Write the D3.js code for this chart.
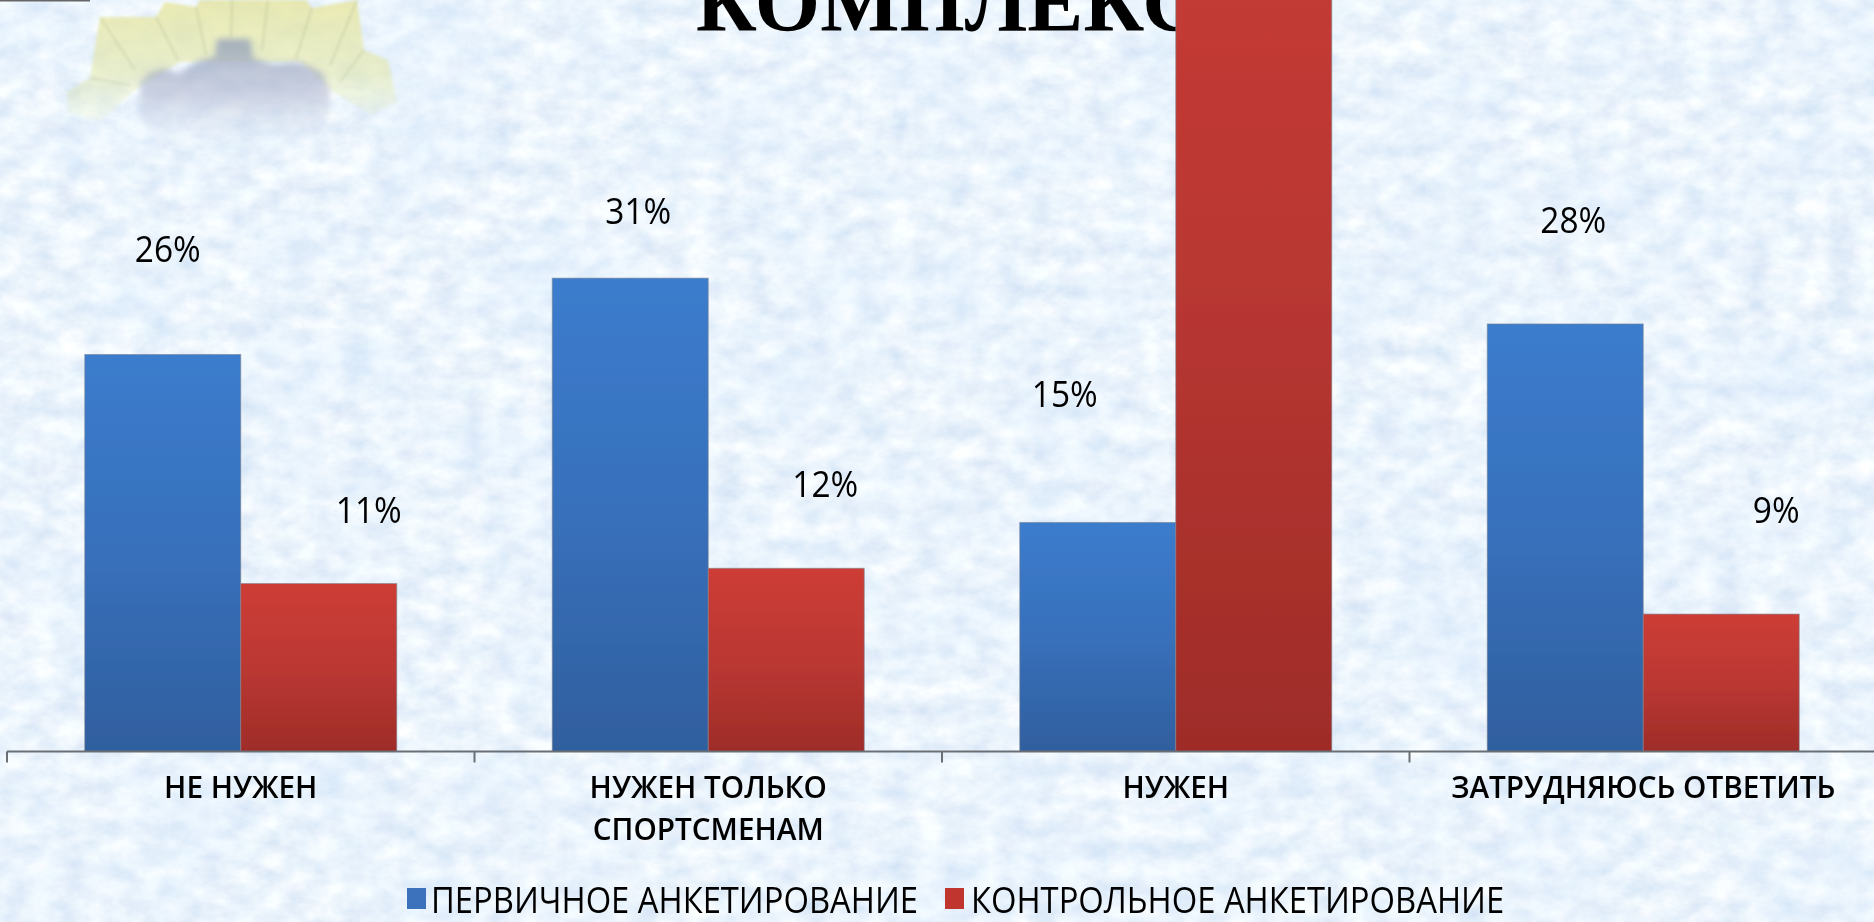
<!DOCTYPE html>
<html><head><meta charset="utf-8">
<script src="https://cdn.jsdelivr.net/npm/d3@7"></script>
<style>html,body{margin:0;padding:0;overflow:hidden;background:#d6e7f8}svg{display:block}
text{font-family:"Open Sans","Noto Sans",sans-serif;fill:#000}</style></head>
<body><script>
const categories = ["НЕ НУЖЕН", "НУЖЕН ТОЛЬКО\nСПОРТСМЕНАМ", "НУЖЕН", "ЗАТРУДНЯЮСЬ ОТВЕТИТЬ"];
const seriesNames = ["ПЕРВИЧНОЕ АНКЕТИРОВАНИЕ", "КОНТРОЛЬНОЕ АНКЕТИРОВАНИЕ"];
const firstSurvey = [26, 31, 15, 28];
const controlSurvey = [11, 12, 68, 9];
const titleText = "КОМПЛЕКС";
// manual data-label displacement from the bar top (hand-placed in the original)
const labelDx = [[0, 3, -38, 3], [45, 34, 0, 50]];
const labelDy = [[92, 54, 115, 91], [61, 71, 0, 91]];

const W = 1874, H = 922, baseY = 751.5;
const svg = d3.select("body").append("svg").attr("width", W).attr("height", H).attr("viewBox", `0 0 ${W} ${H}`);
const defs = svg.append("defs");

function grad(id, stops) {
  const g = defs.append("linearGradient").attr("id", id).attr("x1", 0).attr("x2", 0).attr("y1", 0).attr("y2", 1);
  stops.forEach((c, i) => g.append("stop").attr("offset", i / (stops.length - 1)).attr("stop-color", c));
}
grad("gBlue", ["#3b7ccd", "#3870bb", "#2f5f9e"]);
grad("gRed", ["#cd3c35", "#bb3833", "#9e2c28"]);
function noise(id, freq, oct, seed, matrix) {
  const f = defs.append("filter").attr("id", id).attr("x", 0).attr("y", 0).attr("width", 1).attr("height", 1);
  f.append("feTurbulence").attr("type", "fractalNoise").attr("baseFrequency", freq).attr("numOctaves", oct).attr("seed", seed);
  f.append("feColorMatrix").attr("type", "matrix").attr("values", matrix);
}
noise("snow", "0.035 0.05", 5, 11, "0.42 0.06 0 0 0.60  0.32 0 0 0 0.75  0.14 0 0 0 0.905  0 0 0 0 1");
noise("snowWide", "0.008 0.012", 3, 4, "0 0 0 0 0.70  0 0 0 0 0.84  0 0 0 0 1  1.6 0 0 0 -0.62");
defs.append("filter").attr("id", "soft").append("feGaussianBlur").attr("stdDeviation", 0.75);
defs.append("filter").attr("id", "softBar").append("feGaussianBlur").attr("stdDeviation", 0.7);
defs.append("filter").attr("id", "softLogo").append("feGaussianBlur").attr("stdDeviation", 1.6);
defs.append("filter").attr("id", "softer").append("feGaussianBlur").attr("stdDeviation", 3);
const fade = defs.append("linearGradient").attr("id", "fadeDown").attr("x1", 0).attr("x2", 0).attr("y1", 0).attr("y2", 1);
fade.append("stop").attr("offset", 0).attr("stop-color", "#93a1b8").attr("stop-opacity", .8);
fade.append("stop").attr("offset", .5).attr("stop-color", "#b4b9d0").attr("stop-opacity", .6);
fade.append("stop").attr("offset", 1).attr("stop-color", "#d5e3f5").attr("stop-opacity", 0);
const petal = defs.append("linearGradient").attr("id", "petal").attr("x1", 0).attr("x2", 0).attr("y1", 0).attr("y2", 1);
petal.append("stop").attr("offset", 0).attr("stop-color", "#e6e59e").attr("stop-opacity", .8);
petal.append("stop").attr("offset", .6).attr("stop-color", "#e4e8ac").attr("stop-opacity", .6);
petal.append("stop").attr("offset", 1).attr("stop-color", "#e0ecc0").attr("stop-opacity", .15);

// background
svg.append("rect").attr("width", W).attr("height", H).attr("fill", "#d6e7f8");
svg.append("rect").attr("width", W).attr("height", H).attr("filter", "url(#snow)");
svg.append("rect").attr("width", W).attr("height", H).attr("filter", "url(#snowWide)").attr("opacity", .45);

// faint logo, top-left
const logo = svg.append("g").attr("filter", "url(#softLogo)");
logo.append("path").attr("d", "M67,92 L90,78 L100,17 L156,17 L165,2 L196,7 L200,0 L306,0 L312,8 L357,0 L364,50 L388,60 L397,102 L372,115 L330,90 L300,62 L180,62 L135,90 L100,122 L68,112 Z")
  .attr("fill", "url(#petal)");
logo.selectAll("path.p").data(["M100,17 L135,70","M156,17 L178,60","M196,7 L206,55","M232,0 L231,38","M268,0 L262,50","M312,8 L296,58","M357,0 L330,66","M364,50 L340,82","M90,78 L130,85"])
  .join("path").attr("d", d => d).attr("stroke", "#a8b490").attr("stroke-width", 1.2).attr("fill", "none").attr("opacity", .6);
svg.append("path").attr("d", "M140,82 L150,72 L165,68 L178,74 L196,62 L215,56 L217,39 L250,39 L253,58 L275,64 L300,62 L322,72 L330,90 L330,115 L300,150 L180,150 L140,120 Z")
  .attr("fill", "url(#fadeDown)").attr("filter", "url(#softer)");
// top-left sliver
svg.append("rect").attr("x", 0).attr("y", 0).attr("width", 90).attr("height", 1.5).attr("fill", "#666");

// scales
const x0 = d3.scaleBand().domain(d3.range(categories.length)).range([7, 7 + 467.5 * 4]);
const x1 = d3.scaleBand().domain([0, 1]).range([x0.bandwidth() * 0.1663, x0.bandwidth() * 0.8337]);
const y = d3.scaleLinear().domain([0, 100]).range([baseY, baseY - 1527]);

// title (partly hidden behind the tall bar)
svg.append("text").attr("x", 696).attr("y", 31).attr("font-size", 84)
  .style("font-family", '"Liberation Serif",serif').style("font-weight", "bold").style("fill", "#000").text(titleText);

const chart = svg.append("g").attr("filter", "url(#softBar)");
const series = [firstSurvey, controlSurvey];
const fills = ["url(#gBlue)", "url(#gRed)"];
series.forEach((vals, s) => {
  chart.selectAll(`rect.s${s}`).data(vals).join("rect").attr("class", `s${s}`)
    .attr("x", (d, i) => x0(i) + x1(s)).attr("width", x1.bandwidth())
    .attr("y", d => y(d)).attr("height", d => y(0) - y(d))
    .attr("fill", fills[s]).attr("stroke", "#7f8590").attr("stroke-opacity", .6).attr("stroke-width", 1);
});

// axis with ticks on the band edges
const edges = categories.map((c, i) => x0(i)).concat([x0.range()[1]]);
chart.append("line").attr("x1", edges[0]).attr("x2", W).attr("y1", baseY).attr("y2", baseY).attr("stroke", "#6a6e74").attr("stroke-width", 2);
chart.selectAll("line.t").data(edges).join("line").attr("class", "t")
  .attr("x1", d => d).attr("x2", d => d).attr("y1", baseY).attr("y2", baseY + 11)
  .attr("stroke", "#6a6e74").attr("stroke-width", 2);

const txt = svg.append("g").attr("filter", "url(#soft)");
// text squeezed horizontally, like the original
function label(xp, yp, str, size, weight, k, anchor) {
  txt.append("text").attr("transform", `translate(${xp},${yp}) scale(${k},1)`)
    .attr("text-anchor", anchor).attr("font-size", size).attr("font-weight", weight).text(str);
}
categories.forEach((c, i) => {
  c.split("\n").forEach((line, j) => {
    label(x0(i) + x0.bandwidth() / 2, 798 + j * 42, line, 30, 600, 0.99, "middle");
  });
});
// data labels
series.forEach((vals, s) => vals.forEach((v, i) => {
  const ly = y(v) - labelDy[s][i];
  if (ly < 0) return;           // the 68% label sits above the picture
  label(x0(i) + x1(s) + x1.bandwidth() / 2 + labelDx[s][i] + 5, ly, v + "%", 36, 500, 0.93, "middle");
}));
// legend
const legendX = [[407, 431], [945, 971]];
seriesNames.forEach((n, s) => {
  txt.append("rect").attr("x", legendX[s][0]).attr("y", 888).attr("width", 19).attr("height", 21)
    .attr("fill", s ? "#c0352f" : "#3a72bb");
  label(legendX[s][1], 913, n, 36, 500, 0.91, "start");
});
</script></body></html>
